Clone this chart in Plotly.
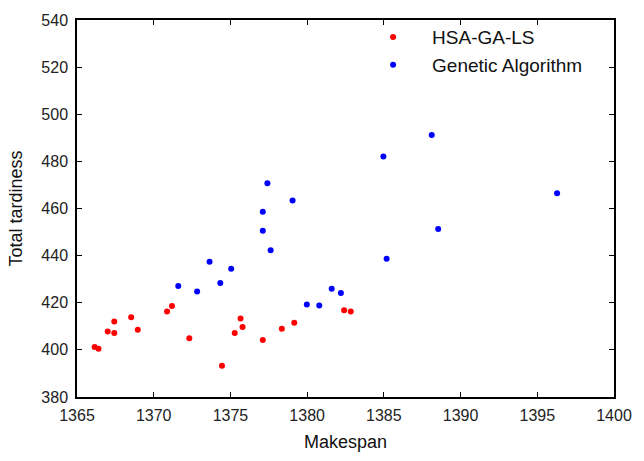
import plotly.graph_objects as go

# HSA-GA-LS (red)
hsa_makespan = [1366.15, 1366.4, 1367.0, 1367.43, 1367.43, 1368.53, 1368.96, 1370.87,
                1371.19, 1372.32, 1374.45, 1375.28, 1375.66, 1375.79, 1377.11, 1378.35,
                1379.16, 1382.41, 1382.84]
hsa_tardiness = [401.2, 400.5, 407.8, 412.0, 407.2, 413.8, 408.5, 416.3,
                 418.6, 404.9, 393.3, 407.2, 413.3, 409.7, 404.2, 409.0,
                 411.5, 416.8, 416.3]

# Genetic Algorithm (blue)
ga_makespan = [1371.6, 1372.83, 1373.64, 1374.34, 1375.05, 1377.62, 1379.98, 1380.79,
               1381.6, 1382.2, 1388.12, 1384.97, 1377.41, 1379.05, 1377.11, 1377.11,
               1396.29, 1388.54, 1385.18]
ga_tardiness = [427.1, 424.8, 437.4, 428.4, 434.4, 442.3, 419.3, 418.8,
                425.9, 424.1, 491.2, 482.1, 470.7, 463.4, 458.6, 450.6,
                466.5, 451.3, 438.7]

x_ticks = [1365, 1370, 1375, 1380, 1385, 1390, 1395, 1400]
y_ticks = [380, 400, 420, 440, 460, 480, 500, 520, 540]

FONT = "Liberation Sans, Arial, sans-serif"

fig = go.Figure()
fig.add_trace(go.Scatter(x=hsa_makespan, y=hsa_tardiness, mode="markers",
                         name="HSA-GA-LS",
                         marker=dict(color="#ff0000", size=6, line=dict(width=0))))
fig.add_trace(go.Scatter(x=ga_makespan, y=ga_tardiness, mode="markers",
                         name="Genetic Algorithm",
                         marker=dict(color="#0000ff", size=6, line=dict(width=0))))

axis_common = dict(
    showgrid=False, zeroline=False, showline=True, linecolor="black", linewidth=1.5,
    mirror="ticks", ticks="inside", ticklen=5, tickwidth=1, tickcolor="black",
    tickfont=dict(family=FONT, size=16, color="#222"),
)

fig.update_layout(
    width=644, height=461,
    margin=dict(l=77, r=19, t=15, b=58),
    paper_bgcolor="white", plot_bgcolor="white",
    font=dict(family=FONT, color="#111"),
    xaxis=dict(range=[1365, 1400], tickvals=x_ticks, ticktext=[str(v) for v in x_ticks],
               ticklabelstandoff=3,
               title=dict(text="Makespan", font=dict(family=FONT, size=18), standoff=12),
               **axis_common),
    yaxis=dict(range=[380, 540], tickvals=y_ticks, ticktext=[str(v) for v in y_ticks],
               ticklabelstandoff=4,
               title=dict(text="Total tardiness", font=dict(family=FONT, size=18), standoff=14),
               **axis_common),
    showlegend=True,
    legend=dict(x=0.516, y=1.005, xanchor="left", yanchor="top",
                bgcolor="rgba(0,0,0,0)", borderwidth=0, itemwidth=68,
                font=dict(family=FONT, size=19, color="#111")),
)

fig.write_html("out.html")
